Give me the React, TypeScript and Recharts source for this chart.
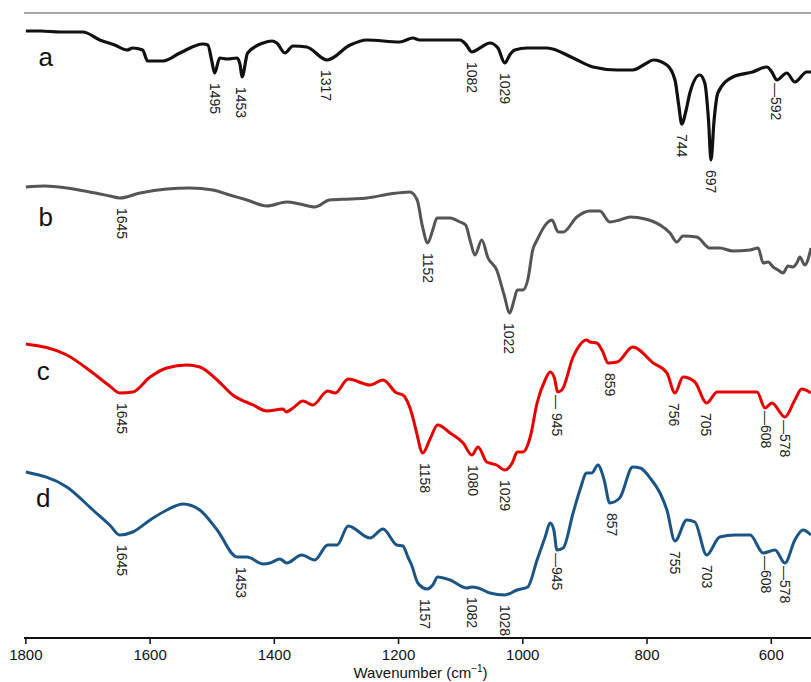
import React from 'react';
import { ComposedChart, Line, Scatter, XAxis, YAxis, ReferenceLine } from 'recharts';

// FTIR spectra, intensity in arbitrary offset units (a.u.)
const spectrumA = [
  { wn: 1800, v: 607 }, { wn: 1777, v: 607 }, { wn: 1745, v: 606 }, { wn: 1708, v: 606 },
  { wn: 1681, v: 598 }, { wn: 1657, v: 593 }, { wn: 1637, v: 588 }, { wn: 1628, v: 590 },
  { wn: 1612, v: 588 }, { wn: 1604, v: 577 }, { wn: 1579, v: 577 }, { wn: 1552, v: 585 },
  { wn: 1515, v: 594 }, { wn: 1507, v: 593 }, { wn: 1501, v: 578 }, { wn: 1496, v: 565 },
  { wn: 1488, v: 580 }, { wn: 1476, v: 579 }, { wn: 1460, v: 580 }, { wn: 1455, v: 573 },
  { wn: 1452, v: 561 }, { wn: 1443, v: 585 }, { wn: 1418, v: 595 }, { wn: 1404, v: 597 },
  { wn: 1396, v: 595 }, { wn: 1383, v: 585 }, { wn: 1370, v: 592 }, { wn: 1348, v: 591 },
  { wn: 1315, v: 578 }, { wn: 1278, v: 593 }, { wn: 1251, v: 598 }, { wn: 1198, v: 596 },
  { wn: 1177, v: 600 }, { wn: 1166, v: 598 }, { wn: 1133, v: 598 }, { wn: 1101, v: 598 },
  { wn: 1092, v: 594 }, { wn: 1082, v: 586 }, { wn: 1069, v: 590 }, { wn: 1053, v: 595 },
  { wn: 1040, v: 590 }, { wn: 1029, v: 575 }, { wn: 1021, v: 583 }, { wn: 1013, v: 588 },
  { wn: 993, v: 590 }, { wn: 961, v: 590 }, { wn: 919, v: 580 }, { wn: 887, v: 571 },
  { wn: 848, v: 568 }, { wn: 823, v: 568 }, { wn: 803, v: 574 }, { wn: 790, v: 578 },
  { wn: 768, v: 573 }, { wn: 755, v: 558 }, { wn: 749, v: 533 }, { wn: 744, v: 514 },
  { wn: 737, v: 528 }, { wn: 731, v: 545 }, { wn: 715, v: 563 }, { wn: 707, v: 555 },
  { wn: 701, v: 518 }, { wn: 697, v: 478 }, { wn: 692, v: 518 }, { wn: 686, v: 545 },
  { wn: 662, v: 561 }, { wn: 630, v: 566 }, { wn: 607, v: 571 }, { wn: 599, v: 566 },
  { wn: 591, v: 558 }, { wn: 575, v: 565 }, { wn: 562, v: 556 }, { wn: 543, v: 566 },
  { wn: 536, v: 566 },
];

const spectrumB = [
  { wn: 1800, v: 451 }, { wn: 1769, v: 452 }, { wn: 1734, v: 450 }, { wn: 1697, v: 446 },
  { wn: 1665, v: 442 }, { wn: 1649, v: 440 }, { wn: 1616, v: 445 }, { wn: 1573, v: 449 },
  { wn: 1536, v: 450 }, { wn: 1499, v: 448 }, { wn: 1472, v: 443 }, { wn: 1444, v: 438 },
  { wn: 1412, v: 432 }, { wn: 1380, v: 436 }, { wn: 1359, v: 434 }, { wn: 1335, v: 431 },
  { wn: 1311, v: 438 }, { wn: 1278, v: 439 }, { wn: 1251, v: 440 }, { wn: 1214, v: 444 },
  { wn: 1182, v: 446 }, { wn: 1170, v: 438 }, { wn: 1162, v: 413 }, { wn: 1153, v: 395 },
  { wn: 1145, v: 408 }, { wn: 1138, v: 420 }, { wn: 1117, v: 420 }, { wn: 1101, v: 416 },
  { wn: 1092, v: 413 }, { wn: 1085, v: 398 }, { wn: 1077, v: 383 }, { wn: 1066, v: 398 },
  { wn: 1056, v: 380 }, { wn: 1042, v: 368 }, { wn: 1030, v: 343 }, { wn: 1021, v: 325 },
  { wn: 1014, v: 338 }, { wn: 1009, v: 348 }, { wn: 1000, v: 348 }, { wn: 992, v: 358 },
  { wn: 984, v: 388 }, { wn: 977, v: 398 }, { wn: 961, v: 415 }, { wn: 953, v: 418 },
  { wn: 943, v: 406 }, { wn: 935, v: 406 }, { wn: 913, v: 421 }, { wn: 892, v: 427 },
  { wn: 876, v: 427 }, { wn: 860, v: 416 }, { wn: 844, v: 418 }, { wn: 827, v: 421 },
  { wn: 803, v: 419 }, { wn: 779, v: 413 }, { wn: 763, v: 405 }, { wn: 752, v: 396 },
  { wn: 742, v: 402 }, { wn: 720, v: 401 }, { wn: 699, v: 390 }, { wn: 683, v: 390 },
  { wn: 662, v: 387 }, { wn: 634, v: 388 }, { wn: 621, v: 390 }, { wn: 613, v: 375 },
  { wn: 605, v: 376 }, { wn: 597, v: 371 }, { wn: 589, v: 368 }, { wn: 581, v: 365 },
  { wn: 573, v: 372 }, { wn: 565, v: 371 }, { wn: 558, v: 376 }, { wn: 554, v: 381 },
  { wn: 546, v: 373 }, { wn: 536, v: 390 },
];

const spectrumC = [
  { wn: 1800, v: 294 }, { wn: 1734, v: 283 }, { wn: 1692, v: 265 }, { wn: 1665, v: 252 },
  { wn: 1649, v: 245 }, { wn: 1628, v: 246 }, { wn: 1600, v: 261 }, { wn: 1573, v: 270 },
  { wn: 1541, v: 273 }, { wn: 1520, v: 271 }, { wn: 1492, v: 258 }, { wn: 1467, v: 243 },
  { wn: 1434, v: 233 }, { wn: 1412, v: 227 }, { wn: 1386, v: 229 }, { wn: 1381, v: 226 },
  { wn: 1370, v: 230 }, { wn: 1354, v: 237 }, { wn: 1338, v: 233 }, { wn: 1314, v: 247 },
  { wn: 1302, v: 245 }, { wn: 1281, v: 259 }, { wn: 1246, v: 253 }, { wn: 1225, v: 258 },
  { wn: 1203, v: 245 }, { wn: 1193, v: 243 }, { wn: 1187, v: 238 }, { wn: 1179, v: 225 },
  { wn: 1172, v: 208 }, { wn: 1161, v: 185 }, { wn: 1150, v: 198 }, { wn: 1137, v: 213 },
  { wn: 1117, v: 205 }, { wn: 1096, v: 195 }, { wn: 1082, v: 183 }, { wn: 1072, v: 191 },
  { wn: 1058, v: 176 }, { wn: 1042, v: 173 }, { wn: 1029, v: 168 }, { wn: 1017, v: 175 },
  { wn: 1009, v: 186 }, { wn: 1000, v: 186 }, { wn: 988, v: 201 }, { wn: 977, v: 235 },
  { wn: 964, v: 258 }, { wn: 956, v: 266 }, { wn: 949, v: 260 }, { wn: 944, v: 246 },
  { wn: 937, v: 248 }, { wn: 919, v: 281 }, { wn: 897, v: 298 }, { wn: 892, v: 296 },
  { wn: 881, v: 295 }, { wn: 871, v: 286 }, { wn: 863, v: 275 }, { wn: 848, v: 276 },
  { wn: 823, v: 291 }, { wn: 790, v: 275 }, { wn: 768, v: 265 }, { wn: 755, v: 245 },
  { wn: 742, v: 261 }, { wn: 723, v: 256 }, { wn: 704, v: 235 }, { wn: 687, v: 246 },
  { wn: 623, v: 246 }, { wn: 610, v: 230 }, { wn: 599, v: 235 }, { wn: 578, v: 221 },
  { wn: 562, v: 238 }, { wn: 551, v: 249 }, { wn: 536, v: 245 },
];

const spectrumD = [
  { wn: 1800, v: 166 }, { wn: 1734, v: 151 }, { wn: 1692, v: 128 }, { wn: 1665, v: 113 },
  { wn: 1649, v: 103 }, { wn: 1628, v: 106 }, { wn: 1600, v: 118 }, { wn: 1573, v: 128 },
  { wn: 1547, v: 134 }, { wn: 1520, v: 128 }, { wn: 1492, v: 108 }, { wn: 1460, v: 81 },
  { wn: 1444, v: 81 }, { wn: 1418, v: 74 }, { wn: 1407, v: 75 }, { wn: 1391, v: 79 },
  { wn: 1380, v: 75 }, { wn: 1356, v: 83 }, { wn: 1335, v: 78 }, { wn: 1314, v: 93 },
  { wn: 1299, v: 93 }, { wn: 1281, v: 112 }, { wn: 1246, v: 100 }, { wn: 1225, v: 109 },
  { wn: 1203, v: 93 }, { wn: 1193, v: 92 }, { wn: 1185, v: 81 }, { wn: 1179, v: 73 },
  { wn: 1169, v: 55 }, { wn: 1154, v: 49 }, { wn: 1145, v: 53 }, { wn: 1137, v: 61 },
  { wn: 1117, v: 58 }, { wn: 1090, v: 50 }, { wn: 1082, v: 51 }, { wn: 1072, v: 50 },
  { wn: 1053, v: 45 }, { wn: 1029, v: 43 }, { wn: 1009, v: 48 }, { wn: 992, v: 51 },
  { wn: 977, v: 78 }, { wn: 964, v: 101 }, { wn: 956, v: 115 }, { wn: 950, v: 108 },
  { wn: 945, v: 88 }, { wn: 935, v: 90 }, { wn: 919, v: 125 }, { wn: 908, v: 148 },
  { wn: 897, v: 165 }, { wn: 889, v: 165 }, { wn: 879, v: 173 }, { wn: 869, v: 158 },
  { wn: 860, v: 135 }, { wn: 844, v: 140 }, { wn: 823, v: 171 }, { wn: 811, v: 170 },
  { wn: 795, v: 160 }, { wn: 779, v: 145 }, { wn: 768, v: 128 }, { wn: 755, v: 97 },
  { wn: 736, v: 118 }, { wn: 723, v: 116 }, { wn: 704, v: 83 }, { wn: 683, v: 101 },
  { wn: 658, v: 103 }, { wn: 634, v: 103 }, { wn: 613, v: 85 }, { wn: 594, v: 88 },
  { wn: 578, v: 75 }, { wn: 562, v: 98 }, { wn: 549, v: 108 }, { wn: 536, v: 103 },
];

// peak labels: position and intensity of each assigned band
const peaksA = [
  { wn: 1495, v: 565, label: '1495' }, { wn: 1453, v: 561, label: '1453' },
  { wn: 1317, v: 578, label: '1317' }, { wn: 1082, v: 586, label: '1082' },
  { wn: 1029, v: 575, label: '1029' }, { wn: 744, v: 514, label: '744' },
  { wn: 697, v: 478, label: '697' }, { wn: 592, v: 558, label: '—592' },
];
const peaksB = [
  { wn: 1645, v: 440, label: '1645' }, { wn: 1152, v: 395, label: '1152' },
  { wn: 1022, v: 325, label: '1022' },
];
const peaksC = [
  { wn: 1645, v: 245, label: '1645' }, { wn: 1158, v: 185, label: '1158' },
  { wn: 1080, v: 183, label: '1080' }, { wn: 1029, v: 168, label: '1029' },
  { wn: 945, v: 246, label: '— 945' }, { wn: 859, v: 275, label: '859' },
  { wn: 756, v: 245, label: '756' }, { wn: 705, v: 235, label: '705' },
  { wn: 608, v: 230, label: '—608' }, { wn: 578, v: 221, label: '—578' },
];
const peaksD = [
  { wn: 1645, v: 103, label: '1645' }, { wn: 1453, v: 81, label: '1453' },
  { wn: 1157, v: 49, label: '1157' }, { wn: 1082, v: 51, label: '1082' },
  { wn: 1028, v: 43, label: '1028' }, { wn: 945, v: 88, label: '—945' },
  { wn: 857, v: 135, label: '857' }, { wn: 755, v: 97, label: '755' },
  { wn: 703, v: 83, label: '703' }, { wn: 608, v: 85, label: '—608' },
  { wn: 578, v: 75, label: '—578' },
];

const traceNames = [
  { wn: 1768, v: 581, label: 'a' },
  { wn: 1768, v: 421, label: 'b' },
  { wn: 1772, v: 267, label: 'c' },
  { wn: 1772, v: 140, label: 'd' },
];

const xTicks = [1800, 1600, 1400, 1200, 1000, 800, 600];

const FONT = '"Liberation Sans", Arial, sans-serif';

const PeakLabel = (props: any) => {
  const { cx, cy, payload } = props;
  const lead = payload.label.startsWith('—');
  const y0 = cy + (lead ? 3 : 10);
  return (
    <text
      x={cx}
      y={y0}
      transform={`rotate(90, ${cx}, ${y0})`}
      textAnchor="start"
      dominantBaseline="central"
      fontSize={14}
      fontFamily={FONT}
      fill="#222"
    >
      {payload.label}
    </text>
  );
};

const TraceName = (props: any) => {
  const { cx, cy, payload } = props;
  return (
    <text x={cx} y={cy} textAnchor="middle" dominantBaseline="central" fontSize={26} fontFamily={FONT} fill="#111">
      {payload.label}
    </text>
  );
};

const AxisTitle = (props: any) => {
  const { x, y, width } = props.viewBox;
  return (
    <text x={x + width / 2 + 3} y={y + 40} textAnchor="middle" fontSize={15} fontFamily={FONT} fill="#111">
      Wavenumber (cm
      <tspan dy={-6} fontSize={10}>−1</tspan>
      <tspan dy={6}>)</tspan>
    </text>
  );
};

export default function App() {
  return (
    <div style={{ position: 'absolute', left: 0, top: 0, background: '#fff' }}>
      <ComposedChart width={811} height={682} margin={{ top: 13, right: 0, left: 24, bottom: 0 }}>
        <XAxis
          type="number"
          dataKey="wn"
          domain={[536, 1803]}
          reversed
          allowDataOverflow
          ticks={xTicks}
          height={44}
          tickSize={6}
          tickMargin={5}
          axisLine={{ stroke: '#111', strokeWidth: 2 }}
          tickLine={{ stroke: '#111', strokeWidth: 1.5 }}
          tick={{ fill: '#111', fontSize: 15, fontFamily: FONT }}
          label={{ content: AxisTitle }}
        />
        <YAxis
          type="number"
          dataKey="v"
          domain={[0, 625]}
          allowDataOverflow
          width={0}
          tick={false}
          tickLine={false}
          axisLine={{ stroke: '#555', strokeWidth: 1.5 }}
        />
        <ReferenceLine y={625} stroke="#888" strokeWidth={1.5} />
        <Line data={spectrumA} dataKey="v" type="monotone" stroke="#111" strokeWidth={3.2} dot={false} isAnimationActive={false} />
        <Line data={spectrumB} dataKey="v" type="monotone" stroke="#555" strokeWidth={3} dot={false} isAnimationActive={false} />
        <Line data={spectrumC} dataKey="v" type="monotone" stroke="#e60000" strokeWidth={3} dot={false} isAnimationActive={false} />
        <Line data={spectrumD} dataKey="v" type="monotone" stroke="#1b5586" strokeWidth={3} dot={false} isAnimationActive={false} />
        <Scatter data={peaksA} dataKey="v" shape={PeakLabel} isAnimationActive={false} />
        <Scatter data={peaksB} dataKey="v" shape={PeakLabel} isAnimationActive={false} />
        <Scatter data={peaksC} dataKey="v" shape={PeakLabel} isAnimationActive={false} />
        <Scatter data={peaksD} dataKey="v" shape={PeakLabel} isAnimationActive={false} />
        <Scatter data={traceNames} dataKey="v" shape={TraceName} isAnimationActive={false} />
      </ComposedChart>
    </div>
  );
}
